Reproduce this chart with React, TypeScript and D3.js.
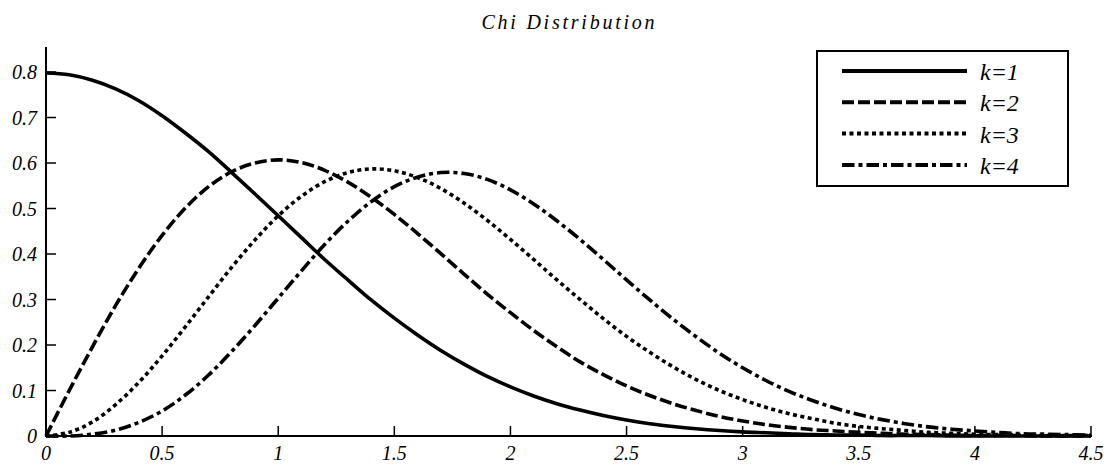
import React from 'react';
import * as d3 from 'd3';

// x samples and densities (step 0.1)
const xs = [
  0, 0.1, 0.2, 0.3, 0.4, 0.5, 0.6, 0.7, 0.8, 0.9, 1, 1.1, 1.2, 1.3, 1.4, 1.5, 1.6, 1.7, 1.8, 1.9,
  2, 2.1, 2.2, 2.3, 2.4, 2.5, 2.6, 2.7, 2.8, 2.9, 3, 3.1, 3.2, 3.3, 3.4, 3.5, 3.6, 3.7, 3.8, 3.9,
  4, 4.1, 4.2, 4.3, 4.4, 4.5,
];
const k1 = [
  0.798, 0.794, 0.782, 0.763, 0.737, 0.704, 0.666, 0.625, 0.579, 0.532, 0.484, 0.436, 0.388, 0.343,
  0.299, 0.259, 0.222, 0.188, 0.158, 0.131, 0.108, 0.088, 0.071, 0.057, 0.045, 0.035, 0.027, 0.021,
  0.016, 0.012, 0.009, 0.007, 0.005, 0.003, 0.002, 0.002, 0.001, 0.001, 0.001, 0, 0, 0, 0, 0, 0, 0,
];
const k2 = [
  0, 0.1, 0.196, 0.287, 0.369, 0.441, 0.501, 0.548, 0.581, 0.6, 0.607, 0.601, 0.584, 0.558, 0.525,
  0.487, 0.445, 0.401, 0.356, 0.312, 0.271, 0.232, 0.196, 0.163, 0.135, 0.11, 0.089, 0.071, 0.056,
  0.043, 0.033, 0.025, 0.019, 0.014, 0.011, 0.008, 0.006, 0.004, 0.003, 0.002, 0.001, 0.001, 0.001,
  0, 0, 0,
];
const k3 = [
  0, 0.008, 0.031, 0.069, 0.118, 0.176, 0.24, 0.306, 0.371, 0.431, 0.484, 0.527, 0.559, 0.579, 0.587,
  0.583, 0.568, 0.544, 0.512, 0.474, 0.432, 0.388, 0.343, 0.3, 0.258, 0.219, 0.184, 0.152, 0.124, 0.1,
  0.08, 0.063, 0.049, 0.038, 0.028, 0.021, 0.016, 0.012, 0.008, 0.006, 0.004, 0.003, 0.002, 0.001,
  0.001, 0.001,
];
const k4 = [
  0, 0, 0.004, 0.013, 0.03, 0.055, 0.09, 0.134, 0.186, 0.243, 0.303, 0.363, 0.421, 0.472, 0.515,
  0.548, 0.569, 0.579, 0.577, 0.564, 0.541, 0.51, 0.473, 0.432, 0.388, 0.343, 0.299, 0.257, 0.218,
  0.182, 0.15, 0.122, 0.098, 0.078, 0.061, 0.047, 0.036, 0.027, 0.02, 0.015, 0.011, 0.008, 0.005,
  0.004, 0.003, 0.002,
];
const seriesNames = ['k=1', 'k=2', 'k=3', 'k=4'];
const xTicks = [0, 0.5, 1, 1.5, 2, 2.5, 3, 3.5, 4, 4.5];
const yTicks = [0, 0.1, 0.2, 0.3, 0.4, 0.5, 0.6, 0.7, 0.8];

const dashes = ['none', '12 4', '4 3.5', '12.5 4 4 4'];
const font = 'Liberation Serif, DejaVu Serif, Times New Roman, serif';

const App = () => {
  const x = d3.scaleLinear().domain([0, 4.5]).range([46, 1091]);
  const y = d3.scaleLinear().domain([0, 0.855]).range([436, 47]);
  const line = d3
    .line<number>()
    .x((_, i) => x(xs[i]))
    .y((d) => y(Math.max(0, d)))
    .curve(d3.curveCatmullRom.alpha(0.5));
  const all = [k1, k2, k3, k4];

  return (
    <svg width={1108} height={465} style={{ position: 'absolute', left: 0, top: 0, background: '#fff' }}>
      <text
        x={568}
        y={29}
        fontFamily={font}
        fontStyle="italic"
        fontSize={20}
        textAnchor="middle"
        textLength={173}
        lengthAdjust="spacing"
      >
        Chi Distribution
      </text>

      {all.map((s, i) => (
        <path
          key={seriesNames[i]}
          d={line(s) ?? ''}
          fill="none"
          stroke="#000"
          strokeWidth={3.6}
          strokeDasharray={dashes[i]}
        />
      ))}

      {/* axes */}
      <line x1={x(0)} x2={x(0)} y1={y(0) + 1} y2={y(0.855)} stroke="#000" strokeWidth={2} />
      <line x1={x(0) - 1} x2={x(4.5) + 1} y1={y(0)} y2={y(0)} stroke="#000" strokeWidth={2} />
      {yTicks.map((t) => (
        <g key={'y' + t}>
          <line x1={x(0)} x2={x(0) + 10} y1={y(t)} y2={y(t)} stroke="#000" strokeWidth={1.5} />
          <text x={37} y={y(t) + 7} fontFamily={font} fontStyle="italic" fontSize={20} textAnchor="end">
            {t}
          </text>
        </g>
      ))}
      {xTicks.map((t) => (
        <g key={'x' + t}>
          <line x1={x(t)} x2={x(t)} y1={y(0)} y2={y(0) - 10} stroke="#000" strokeWidth={1.5} />
          <text x={x(t)} y={460} fontFamily={font} fontStyle="italic" fontSize={20} textAnchor="middle">
            {t}
          </text>
        </g>
      ))}

      {/* legend */}
      <rect x={817} y={51} width={251} height={135} fill="#fff" stroke="#000" strokeWidth={2} />
      {seriesNames.map((name, i) => {
        const ly = 71 + i * 31.3;
        return (
          <g key={name}>
            <line x1={842} x2={967} y1={ly} y2={ly} stroke="#000" strokeWidth={4} strokeDasharray={dashes[i]} />
            <text x={980} y={ly + 9} fontFamily={font} fontStyle="italic" fontSize={24}>
              {name}
            </text>
          </g>
        );
      })}
    </svg>
  );
};

export default App;
